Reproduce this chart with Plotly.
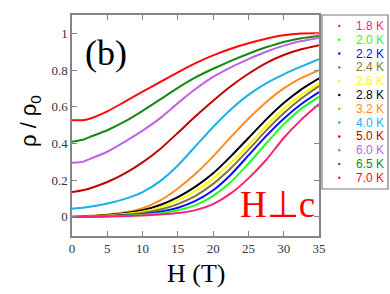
import plotly.graph_objects as go

# ---- data ----
H = [0, 1.5, 2.5, 5, 7.5, 10, 12.5, 15, 17.5, 20, 22.5, 25, 27.5, 30, 32.5, 35]
labels = ["1.8 K", "2.0 K", "2.2 K", "2.4 K", "2.6 K", "2.8 K",
          "3.2 K", "4.0 K", "5.0 K", "6.0 K", "6.5 K", "7.0 K"]
rho_1p8 = [0.0, 0.0, 0.0, 0.002, 0.004, 0.008, 0.013, 0.021, 0.037, 0.07, 0.128, 0.21, 0.31, 0.43, 0.53, 0.615]
rho_2p0 = [0, 0, 0.001, 0.003, 0.006, 0.012, 0.02, 0.036, 0.064, 0.115, 0.19, 0.29, 0.40, 0.505, 0.59, 0.655]
rho_2p2 = [0, 0, 0.001, 0.004, 0.008, 0.015, 0.028, 0.05, 0.087, 0.145, 0.23, 0.335, 0.44, 0.535, 0.615, 0.68]
rho_2p4 = [0, 0.001, 0.002, 0.006, 0.012, 0.022, 0.04, 0.07, 0.115, 0.18, 0.265, 0.365, 0.47, 0.565, 0.645, 0.713]
rho_2p6 = [0, 0.001, 0.003, 0.008, 0.016, 0.028, 0.052, 0.09, 0.142, 0.21, 0.295, 0.39, 0.495, 0.59, 0.665, 0.727]
rho_2p8 = [0, 0.002, 0.004, 0.01, 0.02, 0.037, 0.065, 0.108, 0.165, 0.238, 0.33, 0.43, 0.53, 0.62, 0.695, 0.755]
rho_3p2 = [0.003, 0.004, 0.006, 0.013, 0.025, 0.048, 0.09, 0.155, 0.235, 0.33, 0.435, 0.535, 0.625, 0.70, 0.757, 0.80]
rho_4p0 = [0.045, 0.05, 0.055, 0.073, 0.098, 0.135, 0.195, 0.28, 0.385, 0.49, 0.585, 0.665, 0.728, 0.777, 0.82, 0.86]
rho_5p0 = [0.135, 0.145, 0.155, 0.19, 0.237, 0.297, 0.37, 0.458, 0.548, 0.633, 0.712, 0.78, 0.838, 0.882, 0.913, 0.935]
rho_6p0 = [0.295, 0.30, 0.315, 0.355, 0.41, 0.47, 0.538, 0.62, 0.697, 0.763, 0.815, 0.86, 0.90, 0.933, 0.958, 0.975]
rho_6p5 = [0.41, 0.42, 0.435, 0.472, 0.52, 0.578, 0.64, 0.703, 0.76, 0.807, 0.85, 0.889, 0.924, 0.953, 0.973, 0.985]
rho_7p0 = [0.527, 0.527, 0.535, 0.575, 0.628, 0.682, 0.735, 0.788, 0.838, 0.88, 0.916, 0.946, 0.971, 0.99, 0.999, 1.0]
series = [rho_1p8, rho_2p0, rho_2p2, rho_2p4, rho_2p6, rho_2p8,
          rho_3p2, rho_4p0, rho_5p0, rho_6p0, rho_6p5, rho_7p0]
colors = ["#ff1f78", "#22ff22", "#0a0aff", "#857530", "#ffff00", "#000000",
          "#ff8c1f", "#1ab0ee", "#c40000", "#c060e6", "#108a10", "#ff0a0a"]
xticks = [0, 5, 10, 15, 20, 25, 30, 35]
yticks = [0, 0.2, 0.4, 0.6, 0.8, 1]

W, HT = 390, 294
ML, MR, MT, MB = 72, 71, 15, 58
PW, PH = W - ML - MR, HT - MT - MB

def px(x):
    return (x - ML) / PW

def py(y):
    return 1 - (y - MT) / PH

fig = go.Figure()
for lab, ys, c in reversed(list(zip(labels, series, colors))):
    fig.add_trace(go.Scatter(x=H, y=ys, mode="lines", name=lab,
                             line=dict(color=c, width=2, shape="spline", smoothing=0.5),
                             showlegend=False))

axis_common = dict(showline=True, linecolor="#858585", linewidth=1.5, mirror="ticks",
                   ticks="inside", ticklen=5, tickcolor="#858585", tickwidth=1.2,
                   showgrid=False, zeroline=False,
                   tickfont=dict(family="Liberation Serif", size=13, color="#333340"))
fig.update_xaxes(range=[0, 35], tickvals=xticks, **axis_common)
fig.update_yaxes(range=[-0.104, 1.10], tickvals=yticks, **axis_common)

shapes = [dict(type="rect", xref="paper", yref="paper",
               x0=px(322), x1=px(388), y0=py(189), y1=py(15),
               line=dict(color="#7a7a7a", width=1.2), fillcolor="white")]
annotations = []
for i, (lab, c) in enumerate(zip(labels, colors)):
    yc = 26 + i * 13.8
    shapes.append(dict(type="circle", xref="paper", yref="paper",
                       x0=px(338), x1=px(340.5), y0=py(yc + 1.25), y1=py(yc - 1.25),
                       line=dict(width=0), fillcolor=c))
    annotations.append(dict(xref="paper", yref="paper", x=px(354), y=py(yc),
                            xanchor="left", yanchor="middle", showarrow=False,
                            text=lab, font=dict(family="Liberation Sans", size=12, color=c)))

annotations += [
    dict(xref="paper", yref="paper", x=px(106), y=py(53), text="(b)", showarrow=False,
         xanchor="center", yanchor="middle",
         font=dict(family="Liberation Serif", size=36, color="black")),
    dict(xref="paper", yref="paper", x=px(277), y=py(204), text="H⊥c", showarrow=False,
         xanchor="center", yanchor="middle",
         font=dict(family="Liberation Serif", size=37, color="#ff0000")),
    dict(xref="paper", yref="paper", x=px(196), y=py(273), text="H (T)", showarrow=False,
         xanchor="center", yanchor="middle",
         font=dict(family="Liberation Serif", size=26, color="black")),
    dict(xref="paper", yref="paper", x=px(30), y=py(121), text="ρ / ρ<sub>0</sub>",
         showarrow=False, textangle=-90, xanchor="center", yanchor="middle",
         font=dict(family="Liberation Sans", size=22, color="black")),
]

fig.update_layout(width=W, height=HT,
                  margin=dict(l=ML, r=MR, t=MT, b=MB, autoexpand=False),
                  plot_bgcolor="white", paper_bgcolor="white",
                  shapes=shapes, annotations=annotations, showlegend=False)
fig.write_html("out.html", config={"displayModeBar": False},
               post_script="document.body.style.margin='0';document.body.style.overflow='hidden';")
